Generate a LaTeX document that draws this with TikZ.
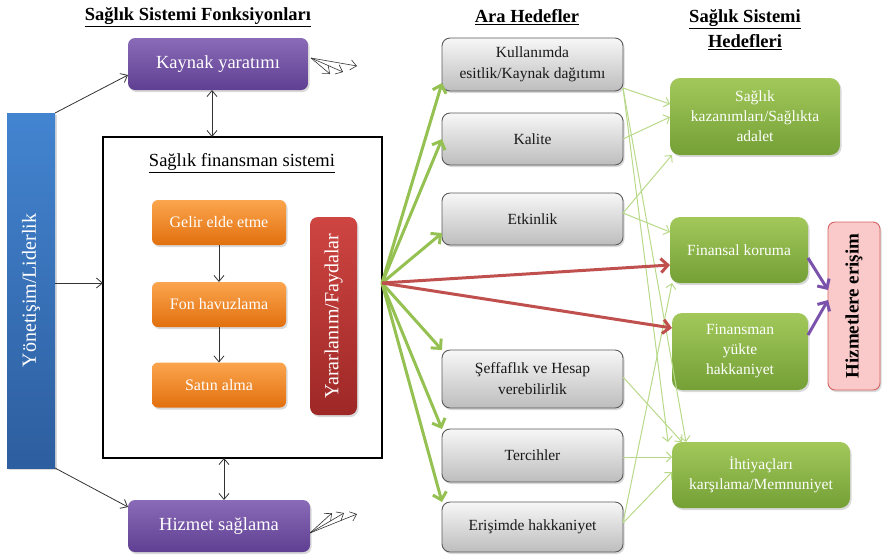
\documentclass[tikz,border=0pt]{standalone}
\usepackage{fontspec}
\setmainfont{Liberation Serif}
\usetikzlibrary{arrows.meta,shadows,calc}

\definecolor{purpT}{HTML}{8A6BB8}
\definecolor{purpB}{HTML}{5F3F91}
\definecolor{blueT}{HTML}{4384D0}
\definecolor{blueB}{HTML}{2D5E9F}
\definecolor{oranT}{HTML}{FBA54E}
\definecolor{oranB}{HTML}{E2700E}
\definecolor{redT}{HTML}{CE4542}
\definecolor{redB}{HTML}{9E2826}
\definecolor{grayT}{HTML}{F7F7F7}
\definecolor{grayB}{HTML}{BDBDBD}
\definecolor{grayD}{HTML}{5A5A5A}
\definecolor{grnT}{HTML}{A2C85A}
\definecolor{grnB}{HTML}{74A036}
\definecolor{pinkF}{HTML}{FAC9C9}
\definecolor{pinkD}{HTML}{D46262}
\definecolor{gArrow}{HTML}{94C152}
\definecolor{gThin}{HTML}{B8D98A}
\definecolor{rArrow}{HTML}{C0504D}
\definecolor{pArrow}{HTML}{7B52AB}

\begin{document}
\begin{tikzpicture}[x=1pt,y=-1pt,
  every node/.style={inner sep=0pt, outer sep=0pt},
  shade/.style={drop shadow={shadow xshift=1.5pt, shadow yshift=-2pt, opacity=0.3}},
  title/.style={font=\fontsize{18.5}{25}\selectfont\bfseries, align=center},
  subtitle/.style={font=\fontsize{18.5}{22}\selectfont},
  purplebox/.style={shade, rounded corners=7pt, top color=purpT, bottom color=purpB,
    text=white, font=\fontsize{18.5}{22}\selectfont},
  bluebox/.style={shade, top color=blueT, bottom color=blueB},
  sidetext/.style={rotate=90, text=white, font=\fontsize{20}{24}\selectfont},
  framebox/.style={draw=black, line width=2.5pt},
  orangebox/.style={shade, rounded corners=6pt, top color=oranT, bottom color=oranB,
    text=white, font=\fontsize{16}{20}\selectfont, minimum width=134pt, minimum height=45pt},
  redbox/.style={shade, rounded corners=8pt, top color=redT, bottom color=redB},
  graybox/.style={shade, draw=grayD, line width=0.9pt, rounded corners=8pt,
    top color=grayT, bottom color=grayB, text=black!90, align=center,
    font=\fontsize{15.5}{21}\selectfont, minimum width=181pt},
  greenbox/.style={shade, rounded corners=10pt, top color=grnT, bottom color=grnB,
    text=white, align=center, font=\fontsize{15.5}{20}\selectfont},
  pinkbox/.style={shade, draw=pinkD, line width=0.9pt, rounded corners=7pt, fill=pinkF},
  blk/.style={draw=black!80, line width=0.8pt, -{Straight Barb[length=6pt,width=10pt]}},
  blkboth/.style={draw=black!80, line width=0.8pt,
    {Straight Barb[length=6pt,width=10pt]}-{Straight Barb[length=6pt,width=10pt]}},
  gth/.style={draw=gArrow, line width=3pt, -{Straight Barb[length=7pt,width=14pt]}},
  rth/.style={draw=rArrow, line width=3pt, -{Straight Barb[length=7pt,width=14pt]}},
  pth/.style={draw=pArrow, line width=3pt, -{Straight Barb[length=7pt,width=14pt]}},
  gtn/.style={draw=gThin, line width=1pt, -{Straight Barb[length=5pt,width=10pt]}}
]
\useasboundingbox (0,0) rectangle (882,555);

% column titles
\node[title] (t1) at (198,17) {\underline{Sağlık Sistemi Fonksiyonları}};
\node[title] (t2) at (527,17) {\underline{Ara Hedefler}};
\node[title] (t3) at (745,30) {\underline{Sağlık Sistemi}\\\underline{Hedefleri}};

% health system functions
\node[purplebox, minimum width=180pt, minimum height=52pt] (kay) at (218,64) {Kaynak yaratımı};
\node[purplebox, minimum width=182pt, minimum height=52pt] (hiz) at (219,526) {Hizmet sağlama};

\node[bluebox, minimum width=48pt, minimum height=355pt] (yon) at (31,290.5) {};
\node[sidetext] (yont) at (yon.center) {Yönetişim/Liderlik};

\node[framebox, minimum width=279pt, minimum height=321pt] (frame) at (242.5,297.5) {};
\node[subtitle] (fint) at (242,163) {\underline{Sağlık finansman sistemi}};

\node[orangebox] (gelir) at (219,222.5) {Gelir elde etme};
\node[orangebox] (fon) at (219,304.5) {Fon havuzlama};
\node[orangebox] (satin) at (219,385) {Satın alma};

\node[redbox, minimum width=47pt, minimum height=198pt] (yar) at (333.5,316) {};
\node[sidetext] (yart) at (yar.center) {Yararlanım/Faydalar};

% intermediate objectives
\node[graybox, minimum height=53pt] (kul) at (532.5,64.5) {Kullanımda\\esitlik/Kaynak dağıtımı};
\node[graybox, minimum height=52pt] (kal) at (532.5,139) {Kalite};
\node[graybox, minimum height=52pt] (etk) at (532.5,219) {Etkinlik};
\node[graybox, minimum height=58pt] (sef) at (532.5,379) {Şeffaflık ve Hesap\\verebilirlik};
\node[graybox, minimum height=53pt] (ter) at (532.5,455.5) {Tercihler};
\node[graybox, minimum height=50pt] (eri) at (532.5,527) {Erişimde hakkaniyet};

% health system goals
\node[greenbox, minimum width=170pt, minimum height=77pt] (sk) at (755,116.5) {Sağlık\\kazanımları/Sağlıkta\\adalet};
\node[greenbox, minimum width=138pt, minimum height=66pt] (fk) at (739,250) {Finansal koruma};
\node[greenbox, minimum width=136pt, minimum height=77pt] (fy) at (740,351.5) {Finansman\\yükte\\hakkaniyet};
\node[greenbox, minimum width=178pt, minimum height=66pt] (ih) at (761,475) {İhtiyaçları\\karşılama/Memnuniyet};

\node[pinkbox, minimum width=52pt, minimum height=168pt] (he) at (854,306) {};
\node[rotate=90, font=\fontsize{19}{22}\selectfont\bfseries, text=black] (het) at (he.center) {Hizmetlere erişim};

% fan-out point on the right side of the financing frame
\coordinate (fan) at (382,283);

% black connectors
\draw[blk] (yon.north east) -- ([yshift=-11pt]kay.west);
\draw[blk] (yon.east |- fan) -- (frame.west |- fan);
\draw[blk] (yon.south east) -- ([yshift=19pt]hiz.west);
\draw[blkboth] ([xshift=-6pt]kay.south) -- ([xshift=-6pt]kay.south |- frame.north);
\draw[blkboth] ([xshift=5pt]hiz.north |- frame.south) -- ([xshift=5pt]hiz.north);
\draw[blk] (gelir.south) -- (fon.north);
\draw[blk] (fon.south) -- (satin.north);

% small arrow clusters
\coordinate (ko) at ([xshift=3pt,yshift=6pt]kay.east);
\coordinate (k1) at (330,74);
\coordinate (k2) at (343,72);
\coordinate (k3) at (357,66);
\draw[blk, line width=0.6pt] (ko) -- (k1);
\draw[blk, line width=0.6pt] (ko) -- (k2);
\draw[blk, line width=0.6pt] (ko) -- (k3);
\coordinate (ho) at ([yshift=-7pt]hiz.east);
\coordinate (h1) at (332,513);
\coordinate (h2) at (344,513);
\coordinate (h3) at (357,514);
\draw[blk, line width=0.6pt] (ho) -- (h1);
\draw[blk, line width=0.6pt] (ho) -- (h2);
\draw[blk, line width=0.6pt] (ho) -- (h3);

% thin links between intermediate objectives and goals
\draw[gtn] ([yshift=3pt]kul.south east) -- ([yshift=-26pt]sk.north west);
\draw[gtn] (kal.east) -- ([yshift=-39pt]sk.north west);
\draw[gtn] ([yshift=6pt]etk.east) -- ([xshift=2pt]sk.south west);
\draw[gtn] ([yshift=6pt]etk.east) -- ([yshift=-15pt]fk.north west);
\draw[gtn] ([yshift=3pt]kul.south east) -- ([xshift=-4pt]ih.north west);
\draw[gtn] ([yshift=3pt]kul.south east) -- ([xshift=14pt]ih.north west);
\draw[gtn] ([yshift=2pt]sef.east) -- ([xshift=10pt]ih.north west);
\draw[gtn] ([yshift=-1.5pt]ter.east) -- ([yshift=-15pt]ih.north west);
\draw[gtn] ([yshift=4pt]eri.east) -- ([yshift=3pt]ih.west);
\draw[gtn] ([yshift=4pt]eri.east) -- ([xshift=2pt]fk.south west);

% thick green fan
\draw[gth] (fan) -- ([yshift=8pt]kul.south west);
\draw[gth] (fan) -- (kal.west);
\draw[gth] (fan) -- ([yshift=12pt]etk.south west);
\draw[gth] (fan) -- (sef.north west);
\draw[gth] (fan) -- (ter.north west);
\draw[gth] (fan) -- (eri.north west);

% red links
\draw[rth] (fan) -- ([yshift=18pt]fk.south west);
\draw[rth] (fan) -- ([yshift=-15pt]fy.north west);

% purple links
\draw[pth] ([yshift=-8pt]fk.east) -- ([yshift=16pt]he.west);
\draw[pth] ([yshift=16.5pt]fy.east) -- ([yshift=6pt]he.west);
\end{tikzpicture}
\end{document}
